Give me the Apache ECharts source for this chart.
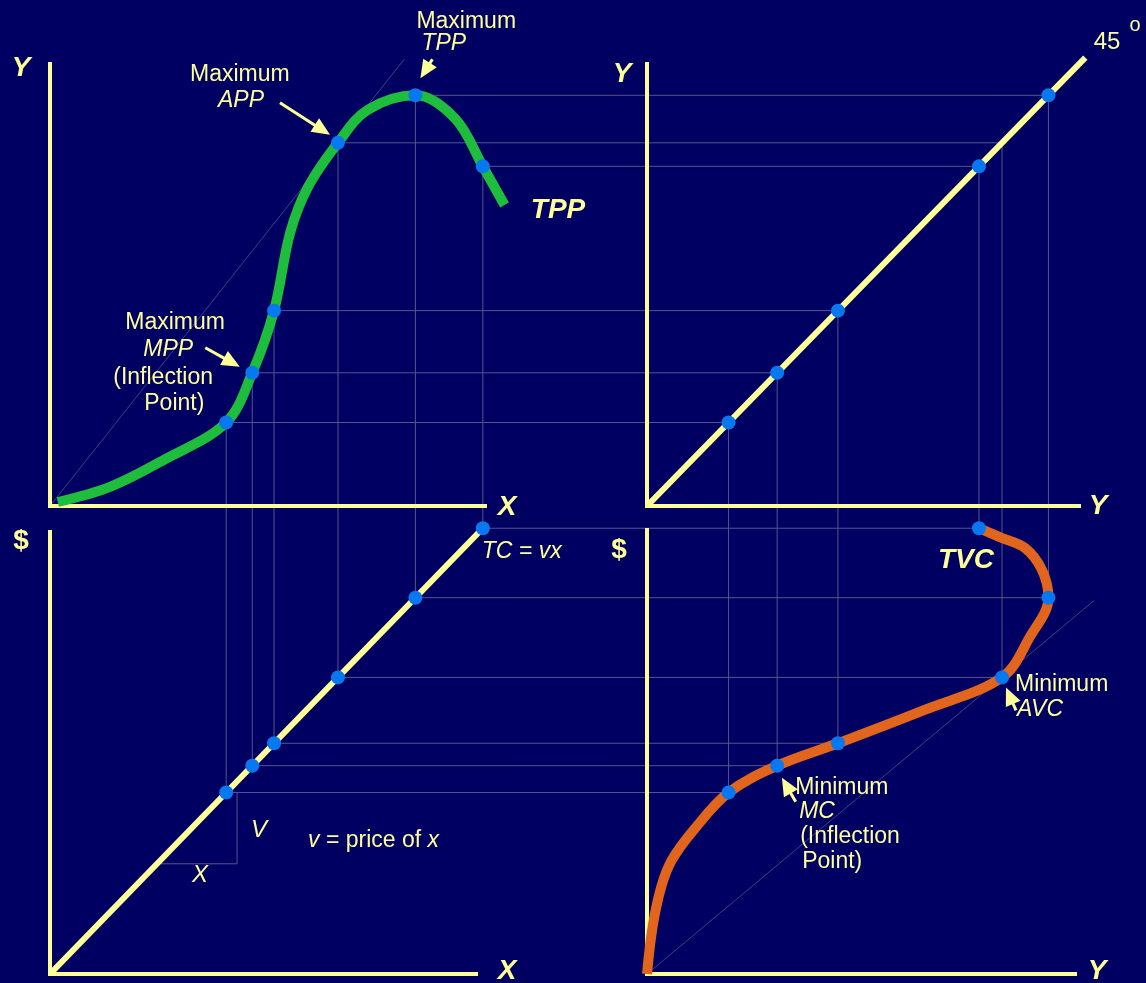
<!DOCTYPE html>
<html>
<head>
<meta charset="utf-8">
<title>Production and cost: four-quadrant derivation of TVC</title>
<script src="https://cdn.jsdelivr.net/npm/echarts@6/dist/echarts.min.js"></script>
<style>
  html, body { margin: 0; padding: 0; background: #000062; }
  #chart { width: 1146px; height: 983px; }
</style>
</head>
<body>
<div id="chart"></div>
<script>
// Six marked points: input x, output Y = TPP(x), cost C = v·x (v = 1)
const inputX  = [4.05, 4.65, 5.15, 6.62, 8.40, 9.95];
const outputY = [1.88, 3.00, 4.40, 8.18, 9.25, 7.65];
const costC   = [4.05, 4.65, 5.15, 6.62, 8.40, 9.95];
// points that are marked on the 45° line
const diagMarked = [0, 1, 2, 4, 5];

// TPP curve: input -> output
const tppX = [0.18, 1.38, 2.62, 4.05, 4.65, 5.15, 5.52, 5.93, 6.62, 7.30, 8.40, 9.32, 9.95, 10.45];
const tppY = [0.09, 0.43, 1.04, 1.88, 3.00, 4.40, 6.15, 7.18, 8.18, 8.92, 9.25, 8.72, 7.65, 6.78];

// TVC curve: output -> cost
const tvcY = [0.00, 0.13, 0.33, 0.57, 1.07, 1.88, 3.00, 4.40, 6.38, 8.18, 8.82, 9.25, 9.10, 8.71, 8.13, 7.65];
const tvcC = [0.00, 1.06, 1.95, 2.54, 3.21, 4.05, 4.65, 5.15, 5.89, 6.62, 7.52, 8.40, 9.02, 9.51, 9.75, 9.95];

// 45° line end value
const diagEnd = 10.1;
// slope triangle (x, $) under TC
const triX = [2.46, 4.30, 4.30];
const triC = [2.46, 2.46, 4.05];
// rays from the origin through max APP / min AVC, stretched by this factor
const rayStretchAPP = 1.23;
const rayStretchAVC = 1.26;

// ---------------------------------------------------------------- styles
const BG = '#000062';
const YELLOW = '#ffff99';
const GREEN = '#1ebd3c';
const ORANGE = '#e1651c';
const DOT = '#0878f0';
const GUIDE = '#55558e';
const RAY = '#3f3f86';
const FONT = '"Liberation Sans", Arial, sans-serif';

// quadrant layout: origin in pixels, drawn axis lengths in pixels, pixels per unit
const Q = [
  { ox: 50,  oy: 506, lenX: 437, lenY: 444, sx: 43.5, sy: 44.4 }, // x -> Y
  { ox: 647, oy: 506, lenX: 434, lenY: 444, sx: 43.4, sy: 44.4 }, // Y -> Y
  { ox: 50,  oy: 974, lenX: 428, lenY: 444, sx: 43.5, sy: 44.8 }, // x -> $
  { ox: 647, oy: 974, lenX: 430, lenY: 446, sx: 43.4, sy: 44.8 }  // Y -> $
];
const PAD = 1; // one spare unit around every plotting area

const zip = (a, b) => a.map((v, i) => [v, b[i]]);

const grids = Q.map(q => {
  const mx = q.lenX / q.sx, my = q.lenY / q.sy;
  return {
    left: q.ox - PAD * q.sx,
    top: q.oy - (my + PAD) * q.sy,
    width: (mx + 2 * PAD) * q.sx,
    height: (my + 2 * PAD) * q.sy,
    outerBoundsMode: 'none'
  };
});

const axisBase = {
  type: 'value', min: -PAD,
  axisLine: { show: false }, axisTick: { show: false },
  axisLabel: { show: false }, splitLine: { show: false }
};
const xAxes = Q.map((q, g) => Object.assign({}, axisBase, { gridIndex: g, max: q.lenX / q.sx + PAD }));
const yAxes = Q.map((q, g) => Object.assign({}, axisBase, { gridIndex: g, max: q.lenY / q.sy + PAD }));

const line = (g, data, color, width, extra) => Object.assign({
  type: 'line', xAxisIndex: g, yAxisIndex: g, data,
  symbol: 'none', silent: true,
  lineStyle: { color, width, cap: 'butt' }
}, extra || {});
const dots = (g, data) => ({
  type: 'scatter', xAxisIndex: g, yAxisIndex: g, data,
  symbol: 'circle', symbolSize: 14, silent: true, z: 6,
  itemStyle: { color: DOT, opacity: 1 }
});

const i4 = 3; // max APP / min AVC point

const option = {
  backgroundColor: BG,
  animation: false,
  grid: grids,
  xAxis: xAxes,
  yAxis: yAxes,
  series: [
    line(0, [[0, 0], [inputX[i4] * rayStretchAPP, outputY[i4] * rayStretchAPP]], RAY, 1, { z: 1 }),
    line(0, zip(tppX, tppY), GREEN, 10, { smooth: 0.35 }),
    dots(0, zip(inputX, outputY)),

    line(1, [[0, 0], [diagEnd, diagEnd]], YELLOW, 6),
    dots(1, diagMarked.map(i => [outputY[i], outputY[i]])),

    line(2, zip(triX, triC), GUIDE, 1, { z: 1 }),
    line(2, [[0, 0], [inputX[5], costC[5]]], YELLOW, 6),
    dots(2, zip(inputX, costC)),

    line(3, [[0, 0], [outputY[i4] * rayStretchAVC, costC[i4] * rayStretchAVC]], RAY, 1, { z: 1 }),
    line(3, zip(tvcY, tvcC), ORANGE, 10, { smooth: 0.35 }),
    dots(3, zip(outputY, costC))
  ]
};

const chart = echarts.init(document.getElementById('chart'));
chart.setOption(option);

const P = (g, x, y) => chart.convertToPixel({ gridIndex: g }, [x, y]);

// ------------------------------------------------ overlay: axes, guides, text, arrows
const gfx = [];

function seg(a, b, color, width, z) {
  gfx.push({ type: 'line', silent: true, z: z,
    shape: { x1: a[0], y1: a[1], x2: b[0], y2: b[1] },
    style: { stroke: color, lineWidth: width } });
}
function text(str, x, y, font, align) {
  gfx.push({ type: 'text', silent: true, z: 20,
    style: { text: str, x: x, y: y, fill: YELLOW, font: font,
      align: align || 'left', verticalAlign: 'middle',
      textAlign: align || 'left', textVerticalAlign: 'middle' } });
}
function arrow(tail, tip) {
  const dx = tip[0] - tail[0], dy = tip[1] - tail[1];
  const len = Math.hypot(dx, dy), ux = dx / len, uy = dy / len;
  const head = 18, half = 8;
  const bx = tip[0] - ux * head, by = tip[1] - uy * head;
  seg(tail, [bx + ux, by + uy], YELLOW, 3, 20);
  gfx.push({ type: 'polygon', silent: true, z: 20,
    shape: { points: [tip, [bx - uy * half, by + ux * half], [bx + uy * half, by - ux * half]] },
    style: { fill: YELLOW } });
}

// axes of each panel, from the origin to the drawn lengths
Q.forEach((q, g) => {
  const o = P(g, 0, 0);
  const xe = P(g, q.lenX / q.sx, 0);
  const ye = P(g, 0, q.lenY / q.sy);
  seg([o[0] - 2, o[1]], xe, YELLOW, 4, 3);
  seg([o[0], o[1] + 2], ye, YELLOW, 4, 3);
});

// projection lines linking the four panels
for (let i = 0; i < inputX.length; i++) {
  const a = P(0, inputX[i], outputY[i]);
  const b = P(1, outputY[i], outputY[i]);
  const c = P(2, inputX[i], costC[i]);
  const d = P(3, outputY[i], costC[i]);
  seg(a, b, GUIDE, 1, 1);
  seg(a, c, GUIDE, 1, 1);
  seg(b, d, GUIDE, 1, 1);
  seg(c, d, GUIDE, 1, 1);
}

const fN = '23px ' + FONT;
const fI = 'italic 23px ' + FONT;
const fB = 'italic bold 28px ' + FONT;
const fS = 'bold 28px ' + FONT;

// annotated points: arrow and text offsets are relative to the marked dot
const notes = [
  { g: 0, i: 3, tail: [-58, -40], tip: [-8, -8],
    lines: [['Maximum', -148, -68, fN], ['APP', -120, -42, fI]] },
  { g: 0, i: 4, tail: [17, -36], tip: [5, -17],
    lines: [['Maximum', 1, -74, fN], ['TPP', 6, -52, fI]] },
  { g: 0, i: 1, tail: [-47, -25], tip: [-12.5, -6],
    lines: [['Maximum', -127, -50, fN], ['MPP', -109, -23, fI], ['(Inflection', -139, 5, fN], ['Point)', -108, 31, fN]] },
  { g: 3, i: 3, tail: [14, 33], tip: [4, 10],
    lines: [['Minimum', 13, 7, fN], ['AVC', 15, 32, fI]] },
  { g: 3, i: 1, tail: [18.5, 36], tip: [4.7, 12],
    lines: [['Minimum', 18, 22, fN], ['MC', 22, 46, fI], ['(Inflection', 23, 71, fN], ['Point)', 25, 96, fN]] }
];
const dotPx = (g, i) => {
  if (g === 0) return P(0, inputX[i], outputY[i]);
  if (g === 1) return P(1, outputY[i], outputY[i]);
  if (g === 2) return P(2, inputX[i], costC[i]);
  return P(3, outputY[i], costC[i]);
};
notes.forEach(n => {
  const o = dotPx(n.g, n.i);
  arrow([o[0] + n.tail[0], o[1] + n.tail[1]], [o[0] + n.tip[0], o[1] + n.tip[1]]);
  n.lines.forEach(l => text(l[0], o[0] + l[1], o[1] + l[2], l[3]));
});

// curve names
const tppEnd = dotPx(0, 5), tcEnd = dotPx(2, 5), tvcTop = dotPx(3, 5);
text('TPP', tppEnd[0] + 48, tppEnd[1] + 44, fB);
text('TC = vx', tcEnd[0] - 1, tcEnd[1] + 23, fI);
text('TVC', tvcTop[0] - 13, tvcTop[1] + 32, fB, 'center');

// slope triangle labels
const corner = P(2, triX[1], triC[1]);
text('V', corner[0] + 22, corner[1] - 33, 'italic 24px ' + FONT, 'center');
text('X', corner[0] - 37, corner[1] + 12, 'italic 24px ' + FONT, 'center');
gfx.push({ type: 'text', silent: true, z: 20,
  style: { text: '{i|v}{n| = price of }{i|x}', x: corner[0] + 71, y: corner[1] - 23,
    align: 'left', verticalAlign: 'middle', textAlign: 'left', textVerticalAlign: 'middle',
    fill: YELLOW, font: fN,
    rich: {
      i: { fontStyle: 'italic', fontSize: 23, fontFamily: FONT, fill: YELLOW, color: YELLOW },
      n: { fontSize: 23, fontFamily: FONT, fill: YELLOW, color: YELLOW }
    } } });

// axis names
const O = Q.map((q, g) => P(g, 0, 0));
const EX = Q.map((q, g) => P(g, q.lenX / q.sx, 0));
const EY = Q.map((q, g) => P(g, 0, q.lenY / q.sy));
text('Y', O[0][0] - 29, EY[0][1] + 6, fB, 'center');
text('X', EX[0][0] + 20, O[0][1] + 1, fB, 'center');
text('Y', O[1][0] - 25, EY[1][1] + 12, fB, 'center');
text('Y', EX[1][0] + 17, O[1][1] + 0, fB, 'center');
text('45', EX[1][0] + 26, EY[1][1] - 20, '24px ' + FONT, 'center');
text('o', EX[1][0] + 54, EY[1][1] - 37, '20px ' + FONT, 'center');
text('$', O[2][0] - 29, EY[2][1] + 11, fS, 'center');
text('X', EX[2][0] + 29, O[2][1] - 3, fB, 'center');
text('$', O[3][0] - 28, EY[3][1] + 22, fS, 'center');
text('Y', EX[3][0] + 20, O[3][1] - 3, fB, 'center');

chart.setOption({ graphic: { elements: gfx } });
</script>
</body>
</html>
